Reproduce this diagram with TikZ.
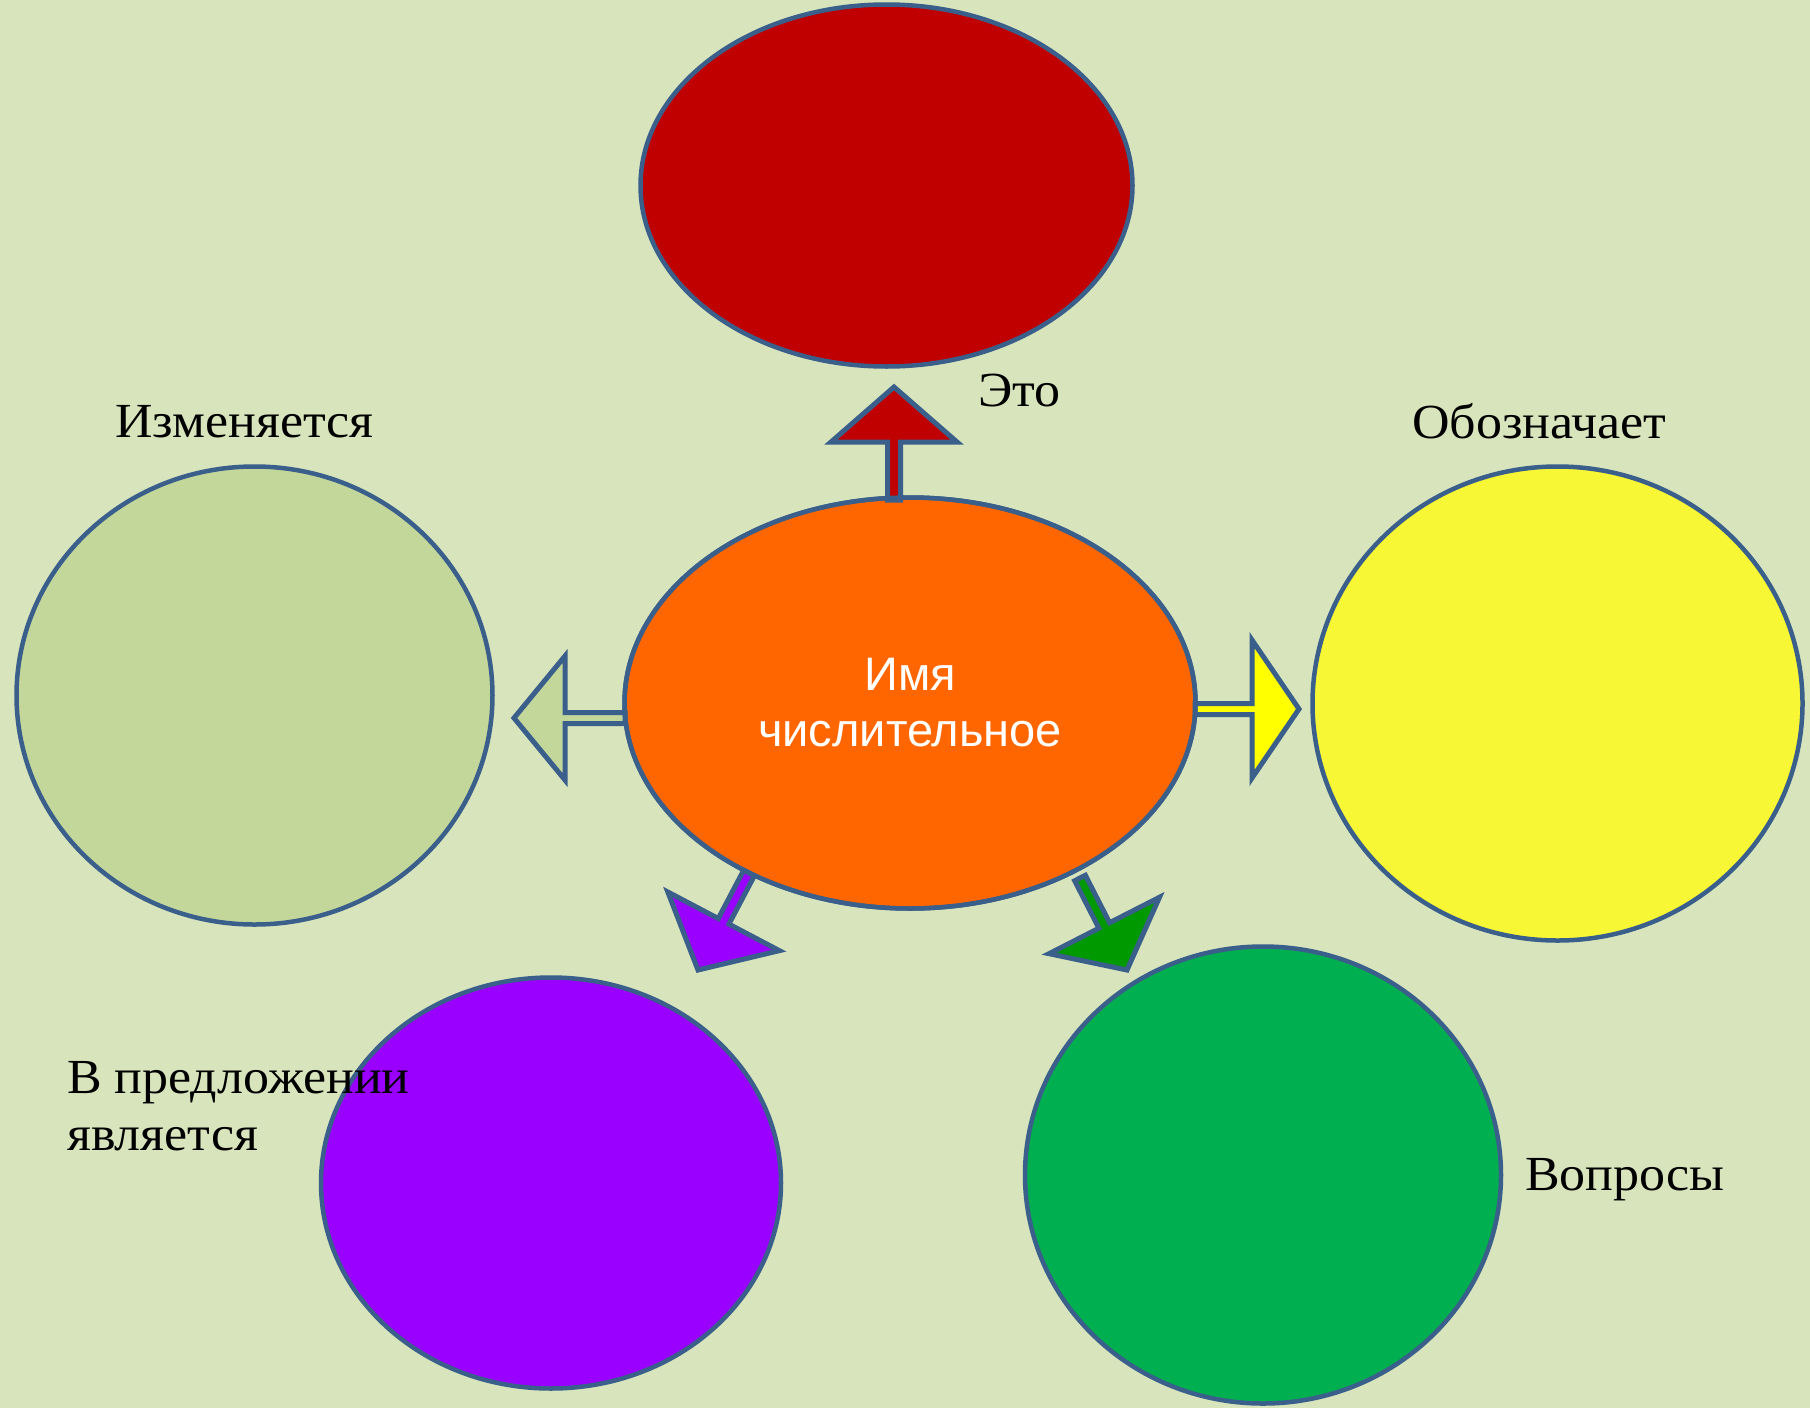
\documentclass[tikz,border=0pt]{standalone}
\usepackage{fontspec}
\setmainfont[FakeStretch=1.06]{Liberation Serif}
\newfontfamily\centerfont{Liberation Sans}
\usetikzlibrary{shapes.geometric,calc}
\definecolor{bgc}{HTML}{D8E4BC}
\definecolor{edgec}{HTML}{3A5F8B}
\definecolor{redc}{HTML}{C00000}
\definecolor{orangec}{HTML}{FF6600}
\definecolor{lgreenc}{HTML}{C4D79B}
\definecolor{yellowc}{HTML}{F7F736}
\definecolor{yellowa}{HTML}{FFFF00}
\definecolor{purplec}{HTML}{9900FF}
\definecolor{greenc}{HTML}{00B050}
\definecolor{greena}{HTML}{009900}
\tikzset{
  oval/.style={ellipse, draw=edgec, line width=4.5pt, inner sep=0pt},
  blockarr/.style={draw=edgec, line width=5pt, line join=miter},
  lbl/.style={anchor=base west, inner sep=0pt, font=\fontsize{49}{57}\selectfont, text=black}
}
% #1 start, #2 tip, #3 head length, #4 shaft half width, #5 head half width, #6 fill
\newcommand\myblockarrow[6]{%
  \coordinate (hb) at ($(#2)!#3!(#1)$);
  \draw[blockarr, fill=#6]
    ($(#1)!#4!90:(#2)$) -- ($(hb)!#4!90:(#2)$) -- ($(hb)!#5!90:(#2)$) -- (#2)
    -- ($(hb)!#5!-90:(#2)$) -- ($(hb)!#4!-90:(#2)$) -- ($(#1)!#4!-90:(#2)$) -- cycle;
}
\begin{document}
\begin{tikzpicture}[x=1pt,y=-1pt]
\fill[bgc] (0,0) rectangle (1810,1408);
\useasboundingbox (0,0) rectangle (1810,1408);

\node[oval, fill=redc, minimum width=492pt, minimum height=362pt] (top) at (886.5,185.5) {};
\node[oval, fill=lgreenc, minimum width=476pt, minimum height=458pt] (left) at (254.5,695.5) {};
\node[oval, fill=yellowc, minimum width=490pt, minimum height=474pt] (right) at (1557.5,703.5) {};
\node[oval, fill=purplec, minimum width=460pt, minimum height=411pt] (bl) at (551,1183) {};
\node[oval, fill=greenc, minimum width=476pt, minimum height=457pt] (br) at (1263,1175) {};
\node[oval, fill=orangec, minimum width=571pt, minimum height=411pt, align=center,
      text=white, font=\centerfont\fontsize{47}{56}\selectfont] (c) at (910,703)
      {Имя\\числительное};

% arrow end points
\coordinate (upS) at (894,500);
\coordinate (upT) at (894,387);
\coordinate (lS) at (625,718);
\coordinate (lT) at (514,718);
\coordinate (rS) at (1195,709);
\coordinate (rT) at (1299,709);
\coordinate (pS) at (749,873);
\coordinate (pT) at (698,970);
\coordinate (gS) at (1080,878);
\coordinate (gT) at (1127,970);

\myblockarrow{upS}{upT}{55pt}{6.5pt}{63pt}{redc}
\myblockarrow{lS}{lT}{51pt}{5.5pt}{62pt}{lgreenc}
\myblockarrow{rS}{rT}{47pt}{5.5pt}{69pt}{yellowa}
\myblockarrow{pS}{pT}{55pt}{6pt}{63pt}{purplec}
\myblockarrow{gS}{gT}{50pt}{6pt}{62pt}{greena}

% redraw center ellipse edge over arrow bases
\node[oval, minimum width=571pt, minimum height=411pt] (cedge) at (910,703) {};

\node[lbl] (l1) at (978,406) {Это};
\node[lbl] (l2) at (115,437) {Изменяется};
\node[lbl] (l3) at (1412,438) {Обозначает};
\node[lbl, align=left] (l4) at (67,1150) {В предложении\\является};
\node[lbl] (l5) at (1525,1190) {Вопросы};
\end{tikzpicture}
\end{document}
